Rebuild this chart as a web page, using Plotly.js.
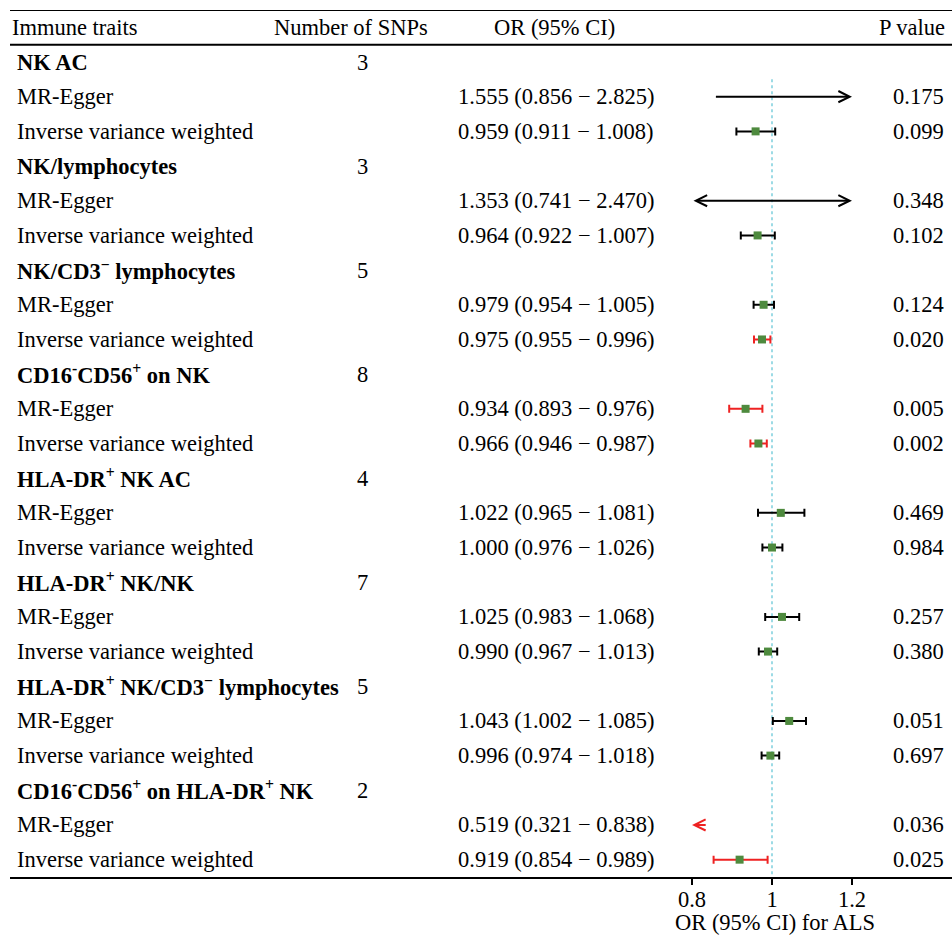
<!DOCTYPE html>
<html><head><meta charset="utf-8">
<script src="https://cdn.plot.ly/plotly-3.0.1.min.js"></script>
<style>body{margin:0;background:#fff}#chart{width:952px;height:938px}</style>
</head><body><div id="chart"></div>
<script>
const groups = ["NK AC","NK/lymphocytes","NK/CD3<sup>−</sup> lymphocytes","CD16<sup>-</sup>CD56<sup>+</sup> on NK","HLA-DR<sup>+</sup> NK AC","HLA-DR<sup>+</sup> NK/NK","HLA-DR<sup>+</sup> NK/CD3<sup>−</sup> lymphocytes","CD16<sup>-</sup>CD56<sup>+</sup> on HLA-DR<sup>+</sup> NK"];
const nSNPs = [3,3,5,8,4,7,5,2];
const methods = ["MR-Egger","Inverse variance weighted"];
// per group: [MR-Egger, IVW]
const orVal = [[1.555,0.959],[1.353,0.964],[0.979,0.975],[0.934,0.966],[1.022,1.000],[1.025,0.990],[1.043,0.996],[0.519,0.919]];
const ciLow = [[0.856,0.911],[0.741,0.922],[0.954,0.955],[0.893,0.946],[0.965,0.976],[0.983,0.967],[1.002,0.974],[0.321,0.854]];
const ciHigh = [[2.825,1.008],[2.470,1.007],[1.005,0.996],[0.976,0.987],[1.081,1.026],[1.068,1.013],[1.085,1.018],[0.838,0.989]];
const pVal = [[0.175,0.099],[0.348,0.102],[0.124,0.020],[0.005,0.002],[0.469,0.984],[0.257,0.380],[0.051,0.697],[0.036,0.025]];
const tickVals = [0.8,1,1.2];
const tickText = ["0.8","1","1.2"];
const headers = ["Immune traits","Number of SNPs","OR (95% CI)","P value"];

const FONT = "Liberation Serif, Times New Roman, serif";
const FS = 22.5;
const XMIN = 0.8, XMAX = 1.2;
const GREEN = "#4e8a3e", RED = "#ee2222", BLACK = "#000000";
const px = p => (p - 10) / 942;

const ann = [];
const shapes = [];
function txt(text, x, y, align, extra) {
  ann.push(Object.assign({text: text, xref: 'paper', yref: 'y', x: px(x), y: y,
    xanchor: align, yanchor: 'middle', showarrow: false,
    font: {family: FONT, size: FS, color: '#000'}}, extra || {}));
}
// header
txt(headers[0], 10, -1, 'left');
txt(headers[1], 351, -1, 'center');
txt(headers[2], 554, -1, 'center');
txt(headers[3], 947, -1, 'right');

const pts = {black: {x:[],y:[],p:[],m:[]}, red: {x:[],y:[],p:[],m:[]}};
groups.forEach((g, gi) => {
  const r = gi * 3;
  txt('<b>' + g + '</b>', 15, r, 'left');
  txt(String(nSNPs[gi]), 362, r, 'center');
  methods.forEach((m, mi) => {
    const y = r + 1 + mi;
    const o = orVal[gi][mi], lo = ciLow[gi][mi], hi = ciHigh[gi][mi], p = pVal[gi][mi];
    txt(m, 15, y, 'left');
    txt(o.toFixed(3) + ' (' + lo.toFixed(3) + ' − ' + hi.toFixed(3) + ')', 555.5, y, 'center');
    txt(p.toFixed(3), 946, y, 'right');
    const col = p < 0.05 ? RED : BLACK;
    if (lo < XMIN || hi > XMAX) {
      const a = Math.max(lo, XMIN), b = Math.min(hi, XMAX);
      let head, tail, side = 'end';
      if (hi > XMAX && lo < XMIN) { head = b; tail = a; side = 'end+start'; }
      else if (hi > XMAX) { head = b; tail = a; }
      else { head = a; tail = b; }
      ann.push({text: '', x: head, y: y, ax: tail, ay: y, xref: 'x', yref: 'y', axref: 'x', ayref: 'y',
        showarrow: true, arrowhead: 5, startarrowhead: 5, arrowside: side, arrowsize: 1.1, startarrowsize: 1.1,
        arrowwidth: 2, arrowcolor: col, standoff: 0, startstandoff: 0});
      if (o >= XMIN && o <= XMAX) {
        const k = p < 0.05 ? 'red' : 'black';
        pts[k].x.push(o); pts[k].y.push(y); pts[k].p.push(0); pts[k].m.push(0);
      }
    } else {
      const k = p < 0.05 ? 'red' : 'black';
      pts[k].x.push(o); pts[k].y.push(y); pts[k].p.push(hi - o); pts[k].m.push(o - lo);
    }
  });
});

const traces = ['black','red'].map(k => ({
  type: 'scatter', mode: 'markers', x: pts[k].x, y: pts[k].y,
  marker: {symbol: 'square', size: 8, color: GREEN},
  error_x: {type: 'data', symmetric: false, array: pts[k].p, arrayminus: pts[k].m,
    color: k === 'red' ? RED : BLACK, thickness: 2, width: 4},
  hoverinfo: 'skip', showlegend: false
}));

// axis title
ann.push({text: 'OR (95% CI) for ALS', xref: 'x', yref: 'paper', x: 1.007, y: 0, yshift: -45,
  xanchor: 'center', yanchor: 'middle', showarrow: false, font: {family: FONT, size: FS, color: '#000'}});

// rules
shapes.push({type: 'line', xref: 'paper', yref: 'y', x0: 0, x1: 1, y0: -1.5, y1: -1.5, line: {color: '#000', width: 2}});
shapes.push({type: 'line', xref: 'paper', yref: 'y', x0: 0, x1: 1, y0: -0.5, y1: -0.5, line: {color: '#000', width: 2}});
// reference line
shapes.push({type: 'line', xref: 'x', yref: 'y', x0: 1, x1: 1, y0: 0.5, y1: 23.5, line: {color: '#5cc3d4', width: 1.2, dash: 'dot'}, layer: 'below'});

const layout = {
  width: 952, height: 938,
  margin: {l: 10, r: 0, t: 10, b: 61},
  paper_bgcolor: '#fff', plot_bgcolor: '#fff',
  font: {family: FONT, size: FS, color: '#000'},
  xaxis: {range: [1 - 762/400, 1 + 180/400], tickvals: tickVals, ticktext: tickText,
    showline: true, linecolor: '#000', linewidth: 2, ticks: 'outside', ticklen: 6, tickwidth: 1.5, tickcolor: '#000',
    ticklabelstandoff: -5,
    showgrid: false, zeroline: false, tickfont: {family: FONT, size: FS, color: '#000'}, fixedrange: true},
  yaxis: {range: [23.5, -1.5], visible: false, showgrid: false, zeroline: false, fixedrange: true},
  annotations: ann, shapes: shapes, showlegend: false
};
Plotly.newPlot('chart', traces, layout, {displayModeBar: false, staticPlot: true});
</script></body></html>
